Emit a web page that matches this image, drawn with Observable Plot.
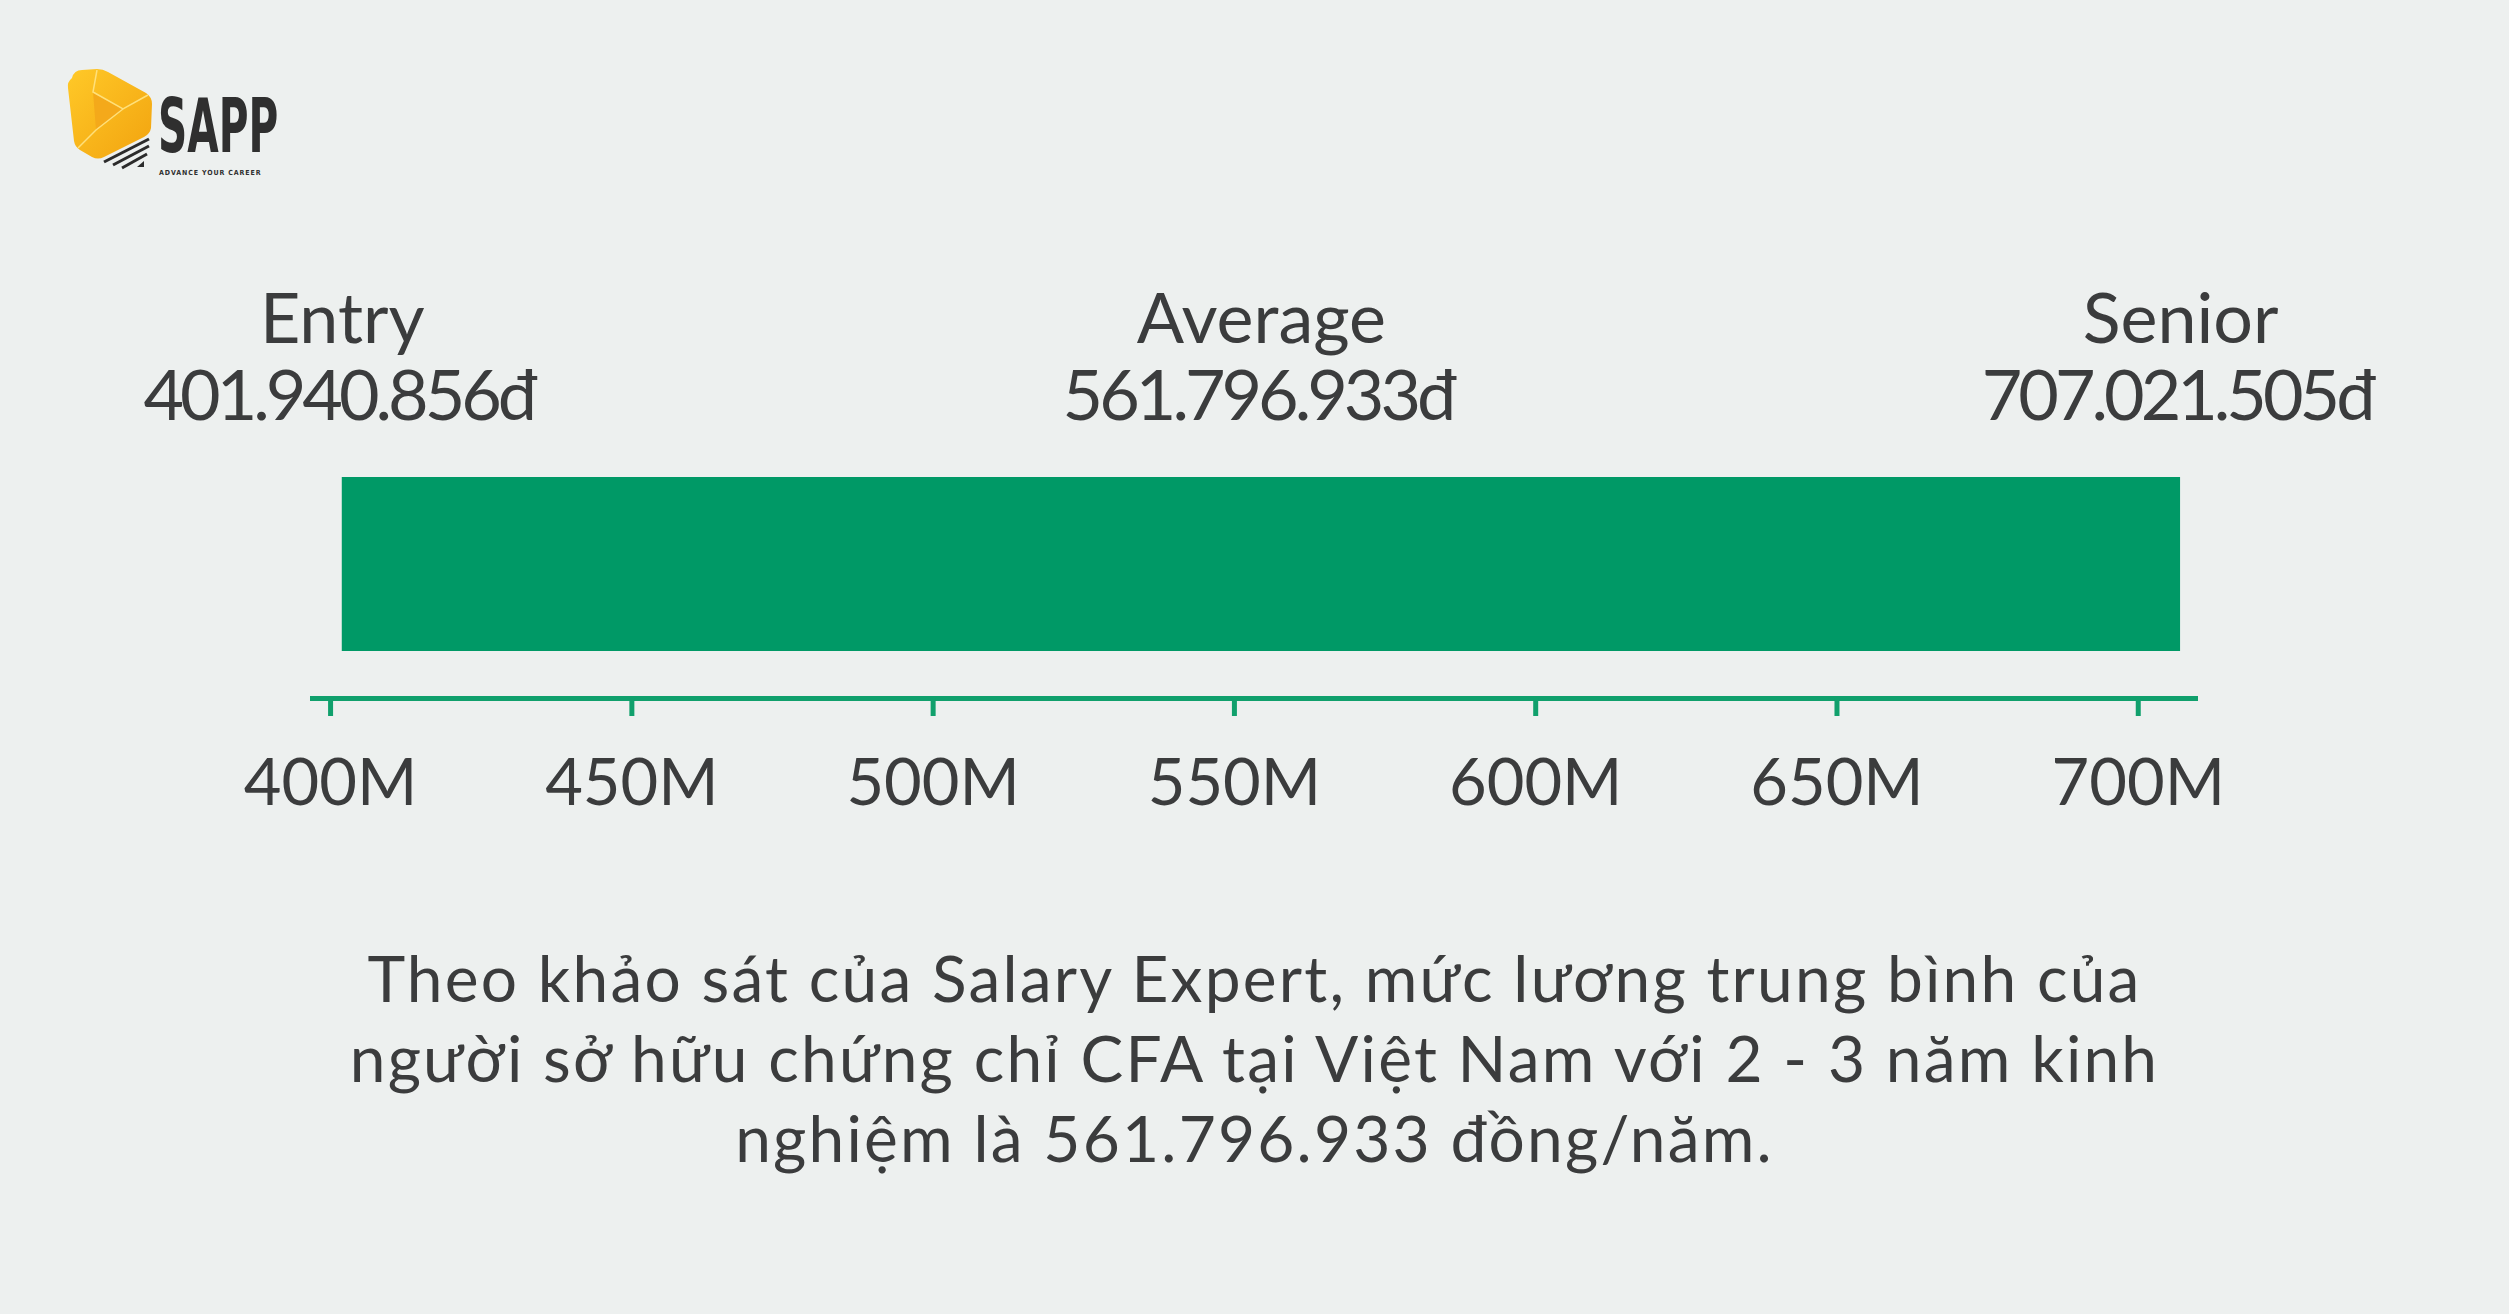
<!DOCTYPE html>
<html>
<head>
<meta charset="utf-8">
<script src="https://cdn.jsdelivr.net/npm/d3@7"></script>
<script src="https://cdn.jsdelivr.net/npm/@observablehq/plot@0.6"></script>
<style>
  html, body { margin: 0; padding: 0; background: #edf0ef; }
  body { width: 2509px; height: 1314px; position: relative; overflow: hidden; font-family: Lato, "Noto Sans", sans-serif; }
  #logo { position: absolute; left: 0; top: 0; overflow: visible; }
  #chart { position: absolute; left: 0; top: 0; }
  #caption { position: absolute; left: 0; width: 2509px; top: 938px; text-align: center; font-size: 64px; line-height: 80px; letter-spacing: 2.2px; color: #3b3c3d; }
</style>
</head>
<body>
<svg id="logo" width="320" height="200" viewBox="0 0 320 200">
  <defs>
    <linearGradient id="lg" x1="0" y1="0" x2="1" y2="1">
      <stop offset="0" stop-color="#FFC928"/>
      <stop offset="1" stop-color="#F2A30F"/>
    </linearGradient>
  </defs>
  <line x1="104" y1="162" x2="149" y2="139" stroke="#2b2b2b" stroke-width="3"/>
  <line x1="113" y1="165" x2="149" y2="146" stroke="#2b2b2b" stroke-width="3"/>
  <line x1="122" y1="168" x2="147" y2="154" stroke="#2b2b2b" stroke-width="3"/>
  <path d="M137 167 L144 161 L144 167 Z" fill="#2b2b2b"/>
  <path d="M72 78 Q74 70 82 70 L97 69 Q103 69 108 72 L146 93 Q152 97 152 104 L151 128 Q150 134 144 137 L104 157 Q98 160 92 157 L80 150 Q75 147 74 141 L68 88 Q67 82 72 78 Z" fill="url(#lg)"/>
  <path d="M93 92 L123 109 L96 130 Z" fill="#F4A91A"/>
  <path d="M97 70 L93 92 L123 109 L148 95 M123 109 L96 130 L78 148" fill="none" stroke="#FFE07A" stroke-width="1.5"/>
  <g transform="translate(158,152) scale(0.61,1)">
    <text x="0" y="0" font-family="'Liberation Sans Narrow','DejaVu Sans Condensed',sans-serif" font-weight="bold" font-size="74" fill="#2f2f2f">SAPP</text>
  </g>
  <text x="159" y="175" font-family="'DejaVu Sans Condensed',sans-serif" font-weight="bold" font-size="7" letter-spacing="0.9" fill="#2f2f2f">ADVANCE YOUR CAREER</text>
</svg>
<div id="chart"></div>
<div id="caption"></div>
<script>
// ---- data ----
const categories = ["Entry", "Average", "Senior"];
const salaries = [401940856, 561796933, 707021505]; // đồng / năm
const tickValues = [400, 450, 500, 550, 600, 650, 700]; // triệu (M)
const captionLines = [
  "Theo khảo sát của Salary Expert, mức lương trung bình của",
  "người sở hữu chứng chỉ CFA tại Việt Nam với 2 - 3 năm kinh",
  "nghiệm là 561.796.933 đồng/năm."
];

// ---- helpers ----
const vn = d3.formatLocale({decimal: ",", thousands: ".", grouping: [3], currency: ["", "đ"]});
const fmt = vn.format(",d");
const toM = v => v / 1e6;

const labels = categories.map((c, i) => ({
  name: c,
  value: salaries[i],
  x: i === 1 ? (toM(salaries[0]) + toM(salaries[2])) / 2 : toM(salaries[i])
}));
const bars = [{start: toM(salaries[0]), end: toM(salaries[2])}];

const green = "#009966";
const axisGreen = "#10a06c";
const ink = "#3b3c3d";

const chart = Plot.plot({
  width: 2509,
  height: 880,
  marginTop: 477,
  marginBottom: 182,
  marginLeft: 312,
  marginRight: 314,
  x: {domain: [397, 709.5], label: null},
  style: {background: "transparent", fontFamily: "Lato, 'Noto Sans', sans-serif", color: ink, overflow: "visible"},
  marks: [
    Plot.barX(bars, {x1: "start", x2: "end", fill: green, insetBottom: 47}),
    Plot.frame({anchor: "bottom", stroke: axisGreen, strokeWidth: 5}),
    Plot.axisX({
      ticks: tickValues,
      tickFormat: d => `${d}M`,
      tickSize: 18,
      tickPadding: 42,
      fontSize: 65,
      stroke: axisGreen,
      strokeWidth: 5,
      fill: ink,
      label: null
    }),
    Plot.text(labels, {
      x: "x",
      text: "name",
      frameAnchor: "top",
      lineAnchor: "bottom",
      dy: -135,
      fontSize: 70,
      fill: ink
    }),
    Plot.text(labels, {
      x: "x",
      text: d => `${fmt(d.value)}đ`,
      frameAnchor: "top",
      lineAnchor: "bottom",
      dy: -58,
      dx: -4,
      fontSize: 70,
      fill: ink
    })
  ]
});
document.getElementById("chart").appendChild(chart);
// tighter figures for the salary values (the original uses a narrow geometric face)
chart.querySelectorAll("g[aria-label='text']").forEach((g, i) => {
  if (i === 1) g.style.letterSpacing = "-4px";
});
document.getElementById("caption").innerHTML = captionLines.join("<br>");
</script>
</body>
</html>
